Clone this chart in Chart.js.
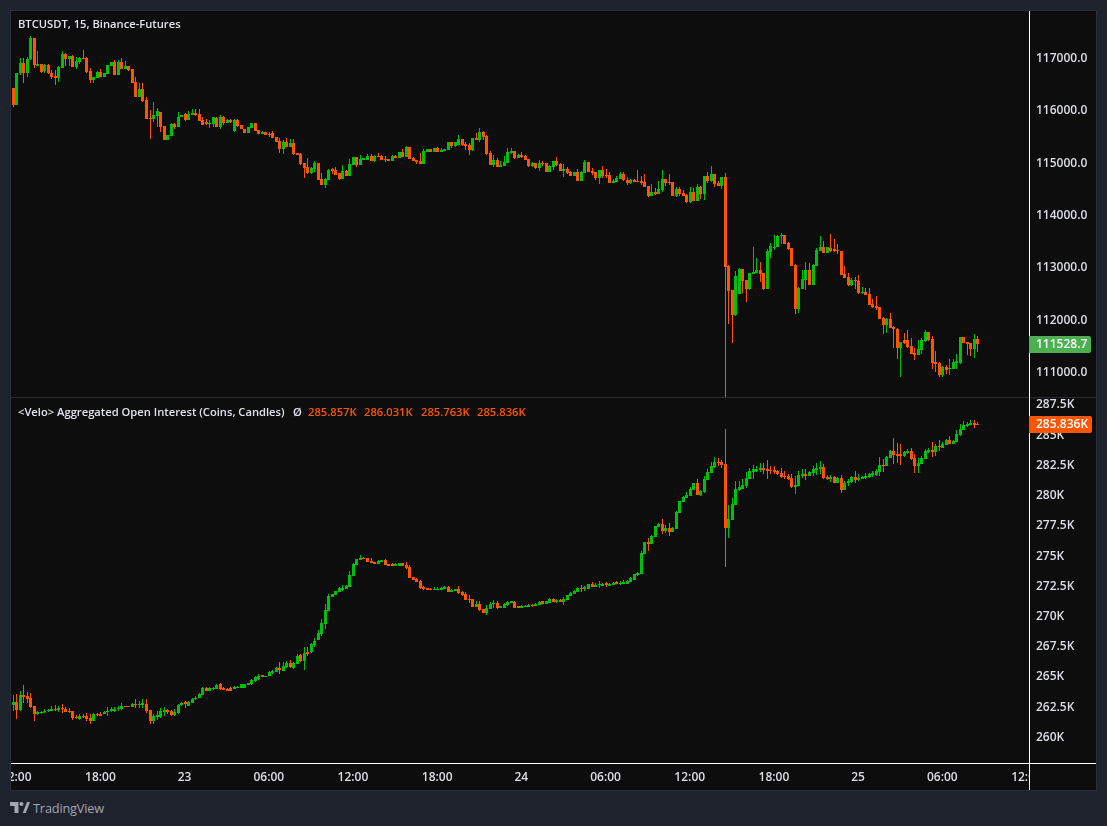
<!DOCTYPE html>
<html lang="en">
<head>
<meta charset="UTF-8">
<title>BTCUSDT, 15, Binance-Futures</title>
<script src="https://cdn.jsdelivr.net/npm/chart.js"></script>
<style>
  html,body{margin:0;height:100%;background:#1e222d;overflow:hidden}
  body{font-family:"Open Sans",sans-serif;position:relative;width:1107px;height:826px}
  #frame{position:absolute;left:10px;top:10px;width:1087px;height:781px;box-sizing:border-box;border:1px solid #2a2e39;background:#0d0d0d}
  canvas#chart{position:absolute;left:0;top:0}
  .lbl{position:absolute;font-size:11.2px;font-weight:600;color:#e0e3eb;white-space:nowrap;line-height:14px}
  .val{color:#ff5500}
  #brand{position:absolute;left:33px;top:799px;font-size:12.8px;line-height:18px;color:#a3a6af;letter-spacing:-.2px}
  #logo{position:absolute;left:10px;top:802px}
</style>
</head>
<body>
<div id="frame"><canvas id="chart" width="1085" height="779"></canvas></div>
<div class="lbl" id="title" style="left:18px;top:17px">BTCUSDT, 15, Binance-Futures</div>
<div class="lbl" id="oiName" style="left:18px;top:405px">&lt;Velo&gt; Aggregated Open Interest (Coins, Candles)</div>
<div class="lbl" style="left:293px;top:405px">Ø</div>
<div class="lbl val" id="oiO" style="left:308px;top:405px"></div>
<div class="lbl val" id="oiH" style="left:364px;top:405px"></div>
<div class="lbl val" id="oiL" style="left:421px;top:405px"></div>
<div class="lbl val" id="oiC" style="left:477px;top:405px"></div>
<svg id="logo" width="20" height="12" viewBox="0 0 20 12"><path fill="#a3a6af" d="M0 0h8.5v11H4.5V4H0zM12.8 11L17 0h3l-4.2 11z"/><circle fill="#a3a6af" cx="11.5" cy="2" r="2"/></svg>
<div id="brand">TradingView</div>

<script>
// 15 minute candles, one column per value. First candle sits one slot left of the "12:00" tick.
const firstSlot=-1;

const priceOpen=[
116411,116092,116698,116889,116710,116965,117379,116844,116870,116742,
116857,116698,116647,116615,116800,117067,116972,117029,116812,116914,
116997,116997,116742,116570,116615,116723,116628,116685,116844,116914,
116666,116914,116780,116838,116780,116532,116245,116398,116188,115844,
115819,115889,115959,115691,115424,115506,115729,115678,115857,115914,
115806,115908,115933,115920,115806,115768,115723,115729,115850,115672,
115863,115748,115806,115602,115806,115710,115634,115557,115659,115748,
115615,115545,115570,115545,115551,115481,115398,115252,115385,115290,
115366,115169,115156,114984,114901,114787,114863,114990,114672,114564,
114659,114863,114850,114787,114678,114831,114742,114952,115099,114946,
115048,115041,115118,115022,115118,115118,115061,115061,115029,115118,
115086,115194,115099,115290,115073,115035,115022,114965,115194,115252,
115194,115271,115194,115220,115233,115385,115309,115328,115443,115354,
115328,115233,115462,115424,115577,115500,115175,114946,115041,114908,
114927,114984,115169,115213,115080,115137,115118,115061,114927,114984,
114889,114991,114978,114812,114908,115022,114965,114831,114870,114812,
114736,114812,114640,114793,115003,114831,114812,114698,114850,114755,
114755,114602,114621,114678,114774,114659,114602,114659,114640,114640,
114621,114545,114354,114430,114392,114468,114678,114621,114621,114354,
114487,114411,114373,114239,114430,114258,114526,114392,114736,114640,
114774,114602,114545,114717,113022,112557,112080,112481,112959,112748,
112576,112863,112882,112939,112876,112576,113283,113366,113379,113589,
113608,113455,113354,113035,112194,112576,112748,112939,112653,113016,
113303,113379,113264,113354,113341,113322,113303,112863,112806,112653,
112748,112729,112500,112519,112481,112290,112252,112232,112022,111888,
112003,111850,111812,111449,111595,111602,111487,111353,111315,111411,
111583,111755,111621,111181,111162,110933,111086,111048,111048,111162,
111162,111659,111564,111544,111430,111621];
const priceHigh=[
116411,116698,116984,116984,117003,117411,117379,117124,116870,116870,
116870,116761,116761,116838,117124,117080,117029,117042,117016,117016,
117143,117003,116793,116621,116742,116774,116698,116857,116914,116952,
116952,116984,116940,116838,116780,116621,116506,116506,116239,115997,
116150,116029,115959,115691,115513,115742,115755,115952,115901,115933,
115984,116010,116010,116010,115857,115819,115806,115869,115869,115901,
115876,115831,115825,115819,115819,115710,115634,115672,115748,115748,
115615,115596,115570,115583,115596,115481,115455,115424,115455,115436,
115436,115169,115169,114984,115080,114914,115016,114990,114787,114691,
114876,114895,114901,114799,114946,114850,115054,115099,115099,115131,
115073,115156,115156,115137,115182,115137,115118,115061,115137,115137,
115194,115252,115309,115290,115092,115035,115182,115252,115252,115252,
115271,115290,115271,115245,115385,115385,115385,115519,115443,115385,
115366,115462,115557,115653,115596,115519,115213,115137,115080,115022,
115118,115271,115271,115213,115150,115194,115137,115061,115003,114984,
115041,115022,114978,114946,115022,115099,114978,114965,114908,114831,
114812,114863,114831,115041,115003,114889,114812,114850,114927,114870,
114812,114678,114736,114812,114812,114717,114678,114678,114850,114736,
114774,114545,114583,114506,114640,114850,114678,114774,114621,114526,
114526,114468,114392,114526,114506,114583,114545,114736,114812,114927,
114774,114640,114717,114793,113035,112557,112920,112978,112959,112748,
112882,113373,113169,113092,112876,113341,113449,113608,113608,113647,
113608,113475,113354,113054,112615,112939,113092,113073,113054,113360,
113589,113494,113379,113627,113532,113436,113303,113016,112882,112787,
112806,112844,112615,112596,112596,112385,112443,112232,112041,112022,
112118,111869,111831,111564,111736,111793,111640,111449,111602,111640,
111793,111755,111678,111392,111181,111105,111124,111239,111239,111334,
111659,111659,111564,111544,111716,111678];
const priceLow=[
116061,116092,116666,116506,116634,116952,116793,116844,116710,116710,
116685,116589,116475,116538,116800,116844,116838,116825,116780,116870,
116965,116704,116519,116519,116602,116628,116628,116685,116844,116666,
116666,116780,116780,116742,116519,116245,116245,116156,115819,115449,
115761,115678,115583,115424,115424,115506,115627,115678,115857,115793,
115806,115901,115889,115793,115710,115710,115653,115666,115672,115634,
115717,115748,115755,115576,115678,115627,115557,115557,115659,115602,
115538,115538,115526,115487,115462,115386,115169,115156,115290,115290,
115143,115137,114952,114704,114774,114774,114818,114659,114564,114506,
114659,114774,114755,114666,114678,114742,114742,114952,114914,114946,
115048,115041,115029,115010,115099,115041,115010,115029,115029,115080,
115086,115105,115099,115061,115022,114965,114965,114965,115194,115194,
115194,115194,115194,115220,115233,115271,115290,115328,115309,115233,
115137,115213,115424,115385,115424,115137,114946,114908,114908,114908,
114927,114984,115156,115061,115080,115080,115041,114908,114908,114870,
114831,114927,114812,114812,114850,114927,114831,114717,114774,114736,
114736,114640,114640,114793,114812,114755,114659,114583,114698,114698,
114602,114602,114621,114678,114640,114564,114583,114621,114621,114564,
114526,114334,114354,114373,114392,114430,114545,114564,114354,114334,
114354,114354,114220,114220,114258,114258,114296,114277,114602,114621,
114526,114545,114487,110520,111908,111551,112060,112481,112494,112334,
112557,112863,112882,112710,112557,112576,113169,113322,113379,113436,
113436,113322,113016,112099,112118,112576,112557,112653,112653,113016,
113303,113264,113264,113283,113283,113245,112844,112787,112634,112634,
112576,112481,112481,112462,112271,112213,112175,112003,111716,111736,
111831,111449,111239,110895,111525,111449,111334,111220,111315,111334,
111564,111583,111048,110990,110895,110895,110952,110933,111048,111048,
111143,111544,111315,111296,111258,111372];
const priceClose=[
116092,116698,116889,116698,116965,117379,116857,116876,116729,116857,
116698,116621,116615,116825,117067,116972,117029,116825,116933,116991,
116965,116717,116570,116621,116723,116628,116698,116857,116914,116666,
116914,116780,116838,116761,116519,116245,116398,116169,115831,115819,
115901,115971,115678,115424,115513,115729,115678,115869,115901,115806,
115914,115933,115901,115793,115710,115729,115755,115857,115672,115863,
115742,115806,115768,115806,115698,115627,115557,115672,115748,115602,
115538,115576,115526,115526,115462,115392,115252,115385,115290,115366,
115156,115137,114965,114895,114787,114895,114990,114659,114564,114672,
114857,114825,114755,114678,114831,114742,114971,115099,114946,115061,
115073,115118,115029,115118,115105,115041,115048,115029,115118,115080,
115194,115105,115290,115061,115029,115003,114965,115213,115252,115194,
115271,115194,115233,115245,115385,115309,115385,115443,115328,115309,
115233,115462,115424,115577,115481,115156,114946,115041,114908,114946,
115003,115194,115213,115080,115137,115099,115041,114927,114984,114889,
114984,114972,114812,114927,115022,114946,114831,114870,114793,114736,
114812,114640,114812,115003,114812,114793,114698,114850,114736,114736,
114602,114640,114698,114774,114659,114602,114659,114621,114621,114608,
114526,114354,114430,114392,114487,114678,114602,114602,114354,114487,
114392,114354,114239,114430,114258,114526,114392,114736,114640,114774,
114583,114545,114717,112997,112545,112080,112825,112959,112729,112583,
112882,112908,112939,112863,112576,113303,113398,113385,113589,113608,
113436,113341,113016,112194,112596,112768,112939,112653,113035,113322,
113379,113264,113379,113303,113303,113303,112844,112787,112653,112748,
112729,112500,112519,112462,112271,112232,112213,112003,111888,112003,
111831,111812,111449,111564,111544,111468,111334,111315,111430,111602,
111755,111602,111162,111143,110933,111086,111028,111067,111181,111200,
111659,111544,111525,111430,111621,111528.7];

// open interest, thousands of coins
const oiOpen=[
262.60,262.85,262.19,263.43,263.35,263.18,262.52,261.86,261.94,262.00,
262.08,262.14,262.27,262.22,262.36,262.30,262.14,262.08,261.61,261.47,
261.69,261.69,261.53,261.28,261.89,261.89,261.89,262.00,262.11,262.14,
262.25,262.30,262.52,262.52,262.47,262.69,262.60,262.60,262.69,262.19,
261.28,261.64,261.61,262.03,262.16,262.11,261.78,261.94,262.58,262.85,
262.52,262.77,263.07,263.16,263.43,264.01,263.79,263.93,263.93,264.34,
264.01,263.93,264.01,263.95,264.04,264.04,264.04,264.29,264.34,264.56,
264.73,265.06,264.95,265.00,265.25,265.33,265.66,265.44,265.75,266.11,
265.66,266.00,266.74,266.24,266.99,266.99,267.57,267.98,268.48,269.30,
270.38,271.54,271.70,271.95,272.14,272.20,272.36,273.27,274.18,274.60,
274.79,274.76,274.51,274.43,274.26,274.43,274.60,274.26,274.24,274.13,
274.10,274.35,274.18,274.02,273.19,273.02,272.86,272.36,272.28,272.20,
272.11,272.11,272.11,272.20,272.36,271.95,272.03,272.20,271.95,271.78,
271.37,271.37,270.71,270.96,270.54,270.21,270.54,270.93,271.04,270.63,
270.63,270.87,271.07,271.12,270.76,270.63,270.71,270.71,270.87,270.79,
270.87,271.18,270.96,271.04,271.37,271.15,271.29,271.12,271.29,271.62,
271.78,271.95,272.28,272.20,272.20,272.61,272.36,272.50,272.45,272.67,
272.45,272.50,272.75,272.61,272.61,272.61,272.78,272.94,273.33,273.44,
275.10,276.09,275.92,276.50,277.36,277.58,277.00,277.25,276.94,277.17,
278.49,279.40,279.70,279.89,280.39,280.94,279.98,280.22,281.22,281.80,
282.29,282.71,282.71,282.54,277.25,277.91,279.15,280.39,280.47,280.72,
281.30,281.88,281.96,282.07,282.21,282.13,282.04,282.04,281.96,281.80,
281.55,281.55,281.38,280.64,280.72,281.55,281.71,281.55,281.80,282.04,
282.15,282.29,281.47,281.30,281.47,280.97,281.38,280.39,280.94,281.05,
281.47,281.22,281.30,281.38,281.47,281.63,281.63,281.88,282.49,282.38,
283.04,283.62,283.37,283.34,283.20,283.45,283.62,283.04,282.38,282.54,
282.95,283.53,283.70,283.53,284.06,283.86,284.11,284.53,284.20,284.36,
284.94,285.35,285.68,285.77,285.93,285.857];
const oiHigh=[
263.43,263.51,263.76,264.26,263.71,263.57,262.52,262.14,262.14,262.27,
262.27,262.52,262.60,262.52,262.69,262.47,262.38,262.14,261.78,261.86,
261.86,261.94,261.86,261.94,261.94,262.03,262.11,262.44,262.44,262.44,
262.52,262.77,262.52,262.52,262.77,263.10,262.93,263.07,263.07,262.19,
261.86,262.11,262.36,262.44,262.25,262.19,262.27,262.69,262.85,262.93,
262.93,263.18,263.35,263.60,264.09,264.09,264.09,264.09,264.34,264.42,
264.09,264.01,264.09,264.15,264.18,264.34,264.34,264.42,264.73,265.00,
265.17,265.06,265.03,265.42,265.50,265.75,266.16,266.16,266.22,266.33,
266.16,266.82,266.82,267.40,267.40,267.73,268.15,268.81,269.72,270.96,
271.78,271.76,272.03,272.36,272.53,272.53,273.69,274.35,274.68,275.01,
274.87,274.76,274.76,274.43,274.60,274.60,274.68,274.26,274.32,274.32,
274.35,274.35,274.43,274.18,273.19,273.11,272.94,272.45,272.28,272.28,
272.36,272.36,272.39,272.45,272.45,272.20,272.20,272.45,272.03,271.95,
271.70,271.37,271.20,271.20,270.54,270.87,271.12,271.29,271.20,270.79,
271.04,271.20,271.23,271.20,270.82,270.87,270.87,270.96,270.96,271.04,
271.20,271.20,271.20,271.45,271.45,271.37,271.34,271.54,271.70,271.95,
272.11,272.36,272.53,272.45,272.61,272.78,272.69,272.86,272.69,272.78,
272.72,272.78,272.83,272.86,272.94,272.94,273.19,273.44,273.60,275.34,
276.09,276.42,276.67,277.41,277.66,277.99,277.50,277.66,277.30,278.63,
279.45,279.89,280.22,280.64,280.97,281.30,280.39,281.55,282.13,282.68,
283.12,283.04,282.87,285.44,279.15,279.73,281.13,281.13,281.30,281.88,
282.21,282.46,282.38,282.62,282.62,282.87,282.38,282.38,282.04,282.21,
281.96,281.71,281.71,281.55,281.96,282.13,282.13,281.96,282.38,282.62,
282.79,282.54,281.63,281.63,281.55,281.47,281.63,281.13,281.30,281.55,
281.96,281.71,281.52,281.80,281.80,281.96,282.13,283.12,282.95,283.20,
283.70,284.69,284.28,284.20,283.62,283.78,283.86,283.37,283.04,283.20,
283.78,283.86,284.36,284.20,284.53,284.36,284.61,284.86,284.53,285.35,
285.85,286.10,286.01,286.18,286.18,286.031];
const oiLow=[
262.14,261.47,262.11,262.74,262.74,262.33,261.28,261.80,261.86,261.97,
262.03,262.08,262.08,262.05,261.97,262.05,261.94,261.36,261.45,261.36,
261.53,261.28,261.03,261.28,261.69,261.72,261.86,261.69,262.03,262.03,
262.14,262.22,262.41,262.41,262.41,262.36,262.36,262.36,261.94,261.03,
261.03,261.36,261.53,261.69,261.86,261.69,261.69,261.86,262.52,262.36,
262.52,262.74,263.02,263.16,263.43,263.79,263.79,263.84,263.93,263.84,
263.84,263.76,263.76,263.93,263.98,264.04,264.04,264.29,264.29,264.51,
264.67,264.95,264.95,265.00,265.20,265.33,265.17,265.39,265.66,265.66,
265.58,266.00,266.16,265.50,266.66,266.90,267.40,267.98,268.31,268.89,
270.38,271.54,271.70,271.95,272.00,272.20,272.36,273.27,274.18,274.60,
274.68,274.43,274.35,274.26,274.26,274.43,274.18,274.13,274.10,274.10,
274.10,274.13,273.85,273.11,272.94,272.78,272.20,272.11,272.11,272.11,
272.11,272.11,272.11,272.20,271.95,271.95,272.03,271.78,271.62,271.29,
271.04,270.71,270.71,270.38,270.21,270.05,270.54,270.63,270.54,270.63,
270.63,270.79,271.01,270.63,270.63,270.63,270.71,270.71,270.71,270.79,
270.87,270.96,270.96,271.04,271.12,271.04,271.12,270.87,271.29,271.62,
271.78,271.95,271.95,272.03,272.20,272.36,272.36,272.28,272.45,272.36,
272.45,272.50,272.61,272.53,272.61,272.61,272.78,272.94,273.27,273.44,
275.10,275.34,275.92,276.50,277.30,276.75,276.86,276.59,276.92,277.17,
278.49,279.40,279.70,279.89,280.39,279.98,279.89,280.14,281.22,281.77,
282.21,282.38,282.21,274.02,276.42,277.91,279.15,280.31,280.47,280.56,
281.30,281.30,281.88,281.88,281.71,281.30,281.71,281.71,281.63,281.38,
281.30,281.22,280.56,280.06,280.72,281.38,281.22,281.55,281.55,281.63,
281.71,281.30,281.22,281.05,280.97,280.97,280.14,280.39,280.72,280.97,
280.97,281.13,281.30,281.30,281.38,281.47,281.55,281.55,281.88,282.38,
283.04,282.54,282.62,282.46,283.12,283.37,282.87,281.80,281.80,282.54,
282.95,283.45,283.12,283.20,283.62,283.86,284.11,284.20,284.20,284.36,
284.86,285.35,285.60,285.77,285.52,285.763];
const oiClose=[
262.85,262.19,263.43,263.29,263.10,262.44,261.86,262.00,262.05,262.11,
262.19,262.27,262.19,262.38,262.25,262.05,262.03,261.53,261.50,261.69,
261.58,261.45,261.28,261.89,261.75,261.72,262.03,262.11,262.27,262.27,
262.38,262.52,262.41,262.41,262.69,262.58,262.69,262.74,262.11,261.28,
261.69,261.75,262.11,262.16,262.03,261.78,262.03,262.60,262.77,262.69,
262.85,263.10,263.18,263.51,264.04,263.79,264.01,264.01,264.26,263.93,
263.84,263.76,263.79,264.09,264.12,264.34,264.34,264.42,264.67,264.92,
265.00,264.95,265.03,265.33,265.42,265.66,265.50,265.83,266.11,265.75,
266.11,266.66,266.24,266.90,266.82,267.65,267.90,268.53,269.36,270.46,
271.62,271.76,272.03,272.28,272.28,272.45,273.36,274.26,274.68,274.76,
274.68,274.43,274.35,274.26,274.51,274.60,274.18,274.13,274.13,274.24,
274.35,274.13,273.93,273.11,272.94,272.78,272.28,272.20,272.11,272.11,
272.20,272.20,272.31,272.36,271.95,272.11,272.20,271.87,271.70,271.29,
271.29,270.71,270.96,270.46,270.21,270.63,270.96,271.04,270.63,270.79,
270.96,271.12,271.18,270.63,270.63,270.79,270.79,270.87,270.79,270.96,
271.12,270.96,271.18,271.37,271.12,271.26,271.12,271.37,271.70,271.87,
272.03,272.28,272.20,272.36,272.61,272.36,272.53,272.61,272.61,272.50,
272.61,272.72,272.64,272.72,272.75,272.89,273.11,273.44,273.55,275.17,
276.09,275.95,276.59,277.41,277.58,277.00,277.25,276.94,277.25,278.57,
279.45,279.78,279.98,280.47,280.94,279.98,280.34,281.30,281.88,282.38,
282.71,282.62,282.46,277.25,277.99,279.23,280.47,280.64,280.80,281.38,
281.96,282.13,282.13,282.21,282.04,281.99,281.96,281.88,281.71,281.47,
281.47,281.30,280.64,280.80,281.63,281.71,281.58,281.88,282.13,282.21,
282.29,281.38,281.30,281.47,280.97,281.38,280.39,280.94,281.11,281.47,
281.22,281.38,281.47,281.55,281.71,281.80,281.96,282.46,282.40,283.12,
283.62,283.29,283.20,283.23,283.53,283.62,282.95,282.38,282.62,283.04,
283.62,283.70,283.53,284.03,283.95,284.20,284.53,284.20,284.42,285.02,
285.44,285.77,285.85,285.90,285.79,285.836];

const timeTicks=['12:00','18:00','23','06:00','12:00','18:00','24','06:00','12:00','18:00','25','06:00','12:00'];
const priceTicks=[117000,116000,115000,114000,113000,112000,111000];

const GREEN='#00bf0d', ORANGE='#ff5500';
const AXIS_FONT='"Open Sans",sans-serif';

function candleColors(open,close){
  return open.map((o,i)=>close[i]>=o?GREEN:ORANGE);
}
// wick and body are both floating bars sharing one x slot
function candleSets(yAxisID,open,high,low,close){
  const colors=candleColors(open,close);
  const base={yAxisID,grouped:false,backgroundColor:colors,borderWidth:0,inflateAmount:0};
  return [
    {...base,barThickness:1,data:high.map((h,i)=>({x:i+firstSlot,y:[low[i],h]}))},
    {...base,barThickness:3,data:open.map((o,i)=>({x:i+firstSlot,y:[Math.min(o,close[i]),Math.max(o,close[i])]}))}
  ];
}

// keep candles on whole pixels so they stay crisp
const pixelSnap={
  id:'pixelSnap',
  beforeDatasetsDraw(chart){
    chart.getSortedVisibleDatasetMetas().forEach(meta=>{
      meta.data.forEach(bar=>{
        const top=Math.round(Math.min(bar.y,bar.base));
        let bottom=Math.round(Math.max(bar.y,bar.base));
        if(bottom===top) bottom=top+1;
        bar.x=Math.floor(bar.x)+.5;
        bar.y=top;
        bar.base=bottom;
      });
    });
  }
};

function lastValueTag(ctx,scale,value,text,color,right){
  const y=Math.round(scale.getPixelForValue(value));
  ctx.fillStyle=color;
  ctx.beginPath();
  ctx.roundRect(right,y-8,62+(color===ORANGE?1:0),17,[0,2,2,0]);
  ctx.fill();
  ctx.fillStyle='#ffffff';
  ctx.font='600 12px '+AXIS_FONT;
  ctx.textBaseline='middle';
  ctx.textAlign='left';
  ctx.fillText(text,right+7,y+1);
}

// pane separators, axis lines and the last value tags go on top of everything else
const paneFurniture={
  id:'paneFurniture',
  afterDraw(chart){
    const {ctx,chartArea,scales}=chart;
    const right=chartArea.right, bottom=chartArea.bottom;
    ctx.save();
    ctx.fillStyle='#0d0d0d';
    ctx.fillRect(right,bottom,chart.width-right,chart.height-bottom);
    ctx.fillStyle='#2a2a30';
    ctx.fillRect(0,scales.yPrice.bottom,chart.width,1);
    ctx.fillStyle='#ffffff';
    ctx.fillRect(right,-1,1,chart.height+1);
    ctx.fillRect(0,bottom,chart.width,1);
    lastValueTag(ctx,scales.yPrice,priceClose.at(-1),priceClose.at(-1).toFixed(1),'#4caf50',right);
    lastValueTag(ctx,scales.yOi,oiClose.at(-1),oiClose.at(-1).toFixed(3)+'K',ORANGE,right);
    ctx.restore();
  }
};

// labels may run past the plot edge, so no axis asks the layout for extra room
function noLabelPadding(scale){
  scale.paddingLeft=scale.paddingRight=scale.paddingTop=scale.paddingBottom=0;
}

const yAxisBase={
  position:'right',
  stack:'panes',
  grid:{display:false,drawTicks:false},
  border:{display:false},
  afterFit(scale){scale.width=67;noLabelPadding(scale);}
};
const axisTicks={color:'#dcdee3',padding:7,autoSkip:false,includeBounds:false,font:{family:AXIS_FONT,size:12,weight:'600'}};

new Chart(document.getElementById('chart'),{
  type:'bar',
  data:{datasets:[
    ...candleSets('yPrice',priceOpen,priceHigh,priceLow,priceClose),
    ...candleSets('yOi',oiOpen,oiHigh,oiLow,oiClose)
  ]},
  options:{
    responsive:false,
    animation:false,
    events:[],
    layout:{padding:0,autoPadding:false},
    plugins:{legend:{display:false},tooltip:{enabled:false}},
    scales:{
      x:{
        type:'linear',offset:false,min:-1.625,max:288.57,
        grid:{display:false,drawTicks:false,offset:false},border:{display:false},
        ticks:{...axisTicks,stepSize:24,maxRotation:0,padding:7,labelOffset:-.5,callback:v=>timeTicks[v/24]},
        afterFit(scale){scale.height=27;noLabelPadding(scale);}
      },
      yPrice:{...yAxisBase,weight:0,stackWeight:386,min:110512.3,max:117888.6,
        afterBuildTicks(scale){scale.ticks=priceTicks.map(value=>({value}));},
        ticks:{...axisTicks,labelOffset:1,callback:v=>v.toFixed(1)}},
      yOi:{...yAxisBase,weight:1,stackWeight:366,min:257.81,max:288.08,
        ticks:{...axisTicks,labelOffset:1,stepSize:2.5,callback:v=>v+'K'}}
    }
  },
  plugins:[pixelSnap,paneFurniture]
});

document.getElementById('oiO').textContent=oiOpen.at(-1).toFixed(3)+'K';
document.getElementById('oiH').textContent=oiHigh.at(-1).toFixed(3)+'K';
document.getElementById('oiL').textContent=oiLow.at(-1).toFixed(3)+'K';
document.getElementById('oiC').textContent=oiClose.at(-1).toFixed(3)+'K';
</script>
</body>
</html>
